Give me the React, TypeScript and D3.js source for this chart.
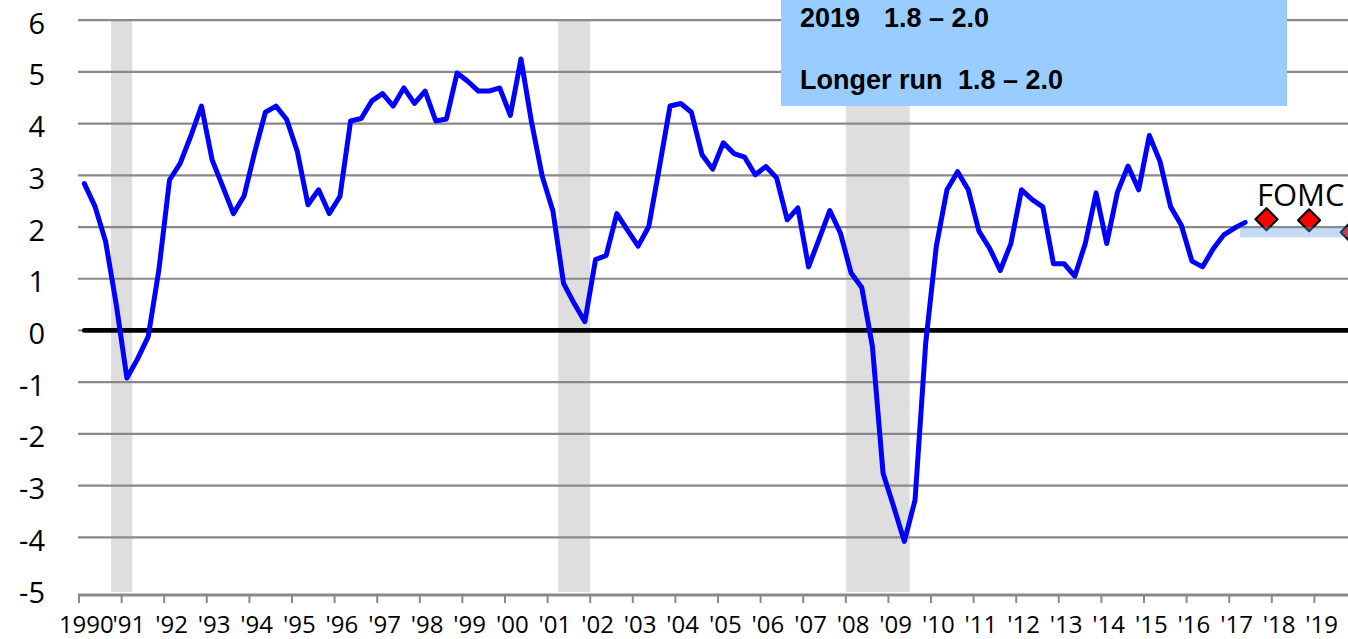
import React from 'react';
import * as d3 from 'd3';

// ---------- DATA ----------
const firstYear = 1990;
const lastYear = 2019;
// Real GDP, percent change from four quarters earlier, 1990Q1 .. 2017Q2
const gdpGrowth = [
  2.84, 2.40, 1.72, 0.50, -0.92, -0.55, -0.12, 1.17,
  2.91, 3.23, 3.76, 4.34, 3.30, 2.78, 2.26, 2.60,
  3.45, 4.22, 4.34, 4.08, 3.46, 2.43, 2.72, 2.26,
  2.59, 4.05, 4.10, 4.44, 4.58, 4.34, 4.69, 4.39,
  4.63, 4.05, 4.09, 4.98, 4.82, 4.63, 4.63, 4.69,
  4.16, 5.25, 4.02, 2.98, 2.31, 0.91, 0.52, 0.17,
  1.37, 1.45, 2.26, 1.94, 1.63, 2.01, 3.16, 4.34,
  4.39, 4.22, 3.40, 3.12, 3.63, 3.42, 3.35, 3.01,
  3.17, 2.95, 2.14, 2.37, 1.23, 1.77, 2.32, 1.88,
  1.11, 0.83, -0.31, -2.76, -3.41, -4.08, -3.28, -0.25,
  1.63, 2.72, 3.07, 2.72, 1.92, 1.59, 1.16, 1.68,
  2.72, 2.53, 2.39, 1.29, 1.29, 1.05, 1.69, 2.66,
  1.68, 2.67, 3.18, 2.72, 3.77, 3.27, 2.39, 2.04,
  1.34, 1.23, 1.58, 1.85, 1.98, 2.09,
];
const fomcPeriods = ['2017Q4', '2018Q4', '2019Q4'];
const fomcMedian = [2.15, 2.13, 1.9];
const longerRunRange = [1.8, 2.0];
const bandStart = '2017Q2';
const recessionStart = ['1990Q4', '2001Q2', '2008Q1'];
const recessionEnd = ['1991Q1', '2001Q4', '2009Q2'];
const yearLabels = [
  '1990', "'91", "'92", "'93", "'94", "'95", "'96", "'97", "'98", "'99",
  "'00", "'01", "'02", "'03", "'04", "'05", "'06", "'07", "'08", "'09",
  "'10", "'11", "'12", "'13", "'14", "'15", "'16", "'17", "'18", "'19",
];
const yTicks = [-5, -4, -3, -2, -1, 0, 1, 2, 3, 4, 5, 6];
const boxLabels = ['2019', 'Longer run'];
const boxRanges = ['1.8 – 2.0', '1.8 – 2.0'];
const annotation = 'FOMC';

// ---------- LAYOUT ----------
const W = 1348;
const H = 639;

const quarters: string[] = [];
for (let yr = firstYear; yr <= lastYear; yr++) for (let q = 1; q <= 4; q++) quarters.push(`${yr}Q${q}`);

export default function App() {
  const x = d3.scaleBand<string>().domain(quarters).range([79, 1357]).paddingInner(0).paddingOuter(0);
  const bw = x.bandwidth();
  const xc = (q: string) => (x(q) as number) + bw / 2;
  const y = d3.scaleLinear().domain([-5, 6]).range([589, 20.2]);

  const line = d3
    .line<number>()
    .x((_, i) => xc(quarters[i]))
    .y((d) => y(d));

  const yearStarts = yearLabels.map((_, i) => quarters[i * 4]);
  const xEnd = (x(quarters[quarters.length - 1]) as number) + bw;

  return (
    <svg width={W} height={H} style={{ position: 'absolute', left: 0, top: 0, background: '#fff' }}>
      {/* recession shading */}
      {recessionStart.map((s, i) => (
        <rect
          key={s}
          x={x(s) as number}
          width={(x(recessionEnd[i]) as number) + bw - (x(s) as number)}
          y={y(6)}
          height={y(-5) - y(6) + 3}
          fill="#dedede"
        />
      ))}
      {/* gridlines */}
      {yTicks.filter((t) => t !== -5).map((t) => (
        <line key={t} x1={78} x2={W + 20} y1={y(t)} y2={y(t)} stroke="#898989" strokeWidth={2.2} />
      ))}
      {/* x axis */}
      <line x1={78} x2={W + 20} y1={y(-5) + 6} y2={y(-5) + 6} stroke="#898989" strokeWidth={3} />
      {yearStarts.map((q) => (
        <line key={q} x1={x(q) as number} x2={x(q) as number} y1={y(-5) + 6} y2={y(-5) + 14} stroke="#898989" strokeWidth={2} />
      ))}
      {/* zero line */}
      <line x1={xc(quarters[0])} x2={W + 20} y1={y(0)} y2={y(0)} stroke="#000" strokeWidth={4.8} strokeLinecap="round" />
      {/* GDP line */}
      <path d={line(gdpGrowth) as string} fill="none" stroke="#0000ff" strokeWidth={5} strokeLinejoin="round" strokeLinecap="round" />
      {/* FOMC median diamonds */}
      {fomcPeriods.map((p, i) => {
        const cx = xc(p);
        const cy = y(fomcMedian[i]);
        const r = 11;
        return (
          <path
            key={p}
            d={`M${cx},${cy - r}L${cx + r},${cy}L${cx},${cy + r}L${cx - r},${cy}Z`}
            fill="#ff0000"
            stroke="#000"
            strokeWidth={2.2}
            strokeLinejoin="round"
          />
        );
      })}
      {/* longer-run band */}
      <rect
        x={x(bandStart) as number}
        width={xEnd - (x(bandStart) as number)}
        y={y(longerRunRange[1])}
        height={y(longerRunRange[0]) - y(longerRunRange[1])}
        fill="rgb(100,160,220)"
        fillOpacity={0.38}
      />
      <text x={1257} y={206} fontFamily="'Open Sans', sans-serif" fontSize={31} fill="#000">
        {annotation}
      </text>
      {/* info box */}
      <rect x={781} y={-10} width={506} height={116} fill="#99ccff" />
      {boxLabels.map((l, i) => (
        <g key={l} fontFamily="'Liberation Sans', Arial, sans-serif" fontWeight="bold" fontSize={27} fill="#000">
          <text x={800} y={27 + i * 62}>{l}</text>
          <text x={i === 0 ? 884 : 958} y={27 + i * 62}>{boxRanges[i]}</text>
        </g>
      ))}
      {/* y labels */}
      {yTicks.map((t) => (
        <text
          key={t}
          x={45}
          y={y(t) + 2}
          textAnchor="end"
          dominantBaseline="central"
          fontFamily="'Open Sans', sans-serif"
          fontSize={29}
          fill="#000"
        >
          {t}
        </text>
      ))}
      {/* x labels */}
      {yearLabels.map((l, i) => (
        <text
          key={l}
          x={xc(yearStarts[i]) + 2}
          y={633}
          textAnchor="middle"
          fontFamily="'Open Sans', sans-serif"
          fontSize={24}
          fill="#000"
        >
          {l}
        </text>
      ))}
    </svg>
  );
}
